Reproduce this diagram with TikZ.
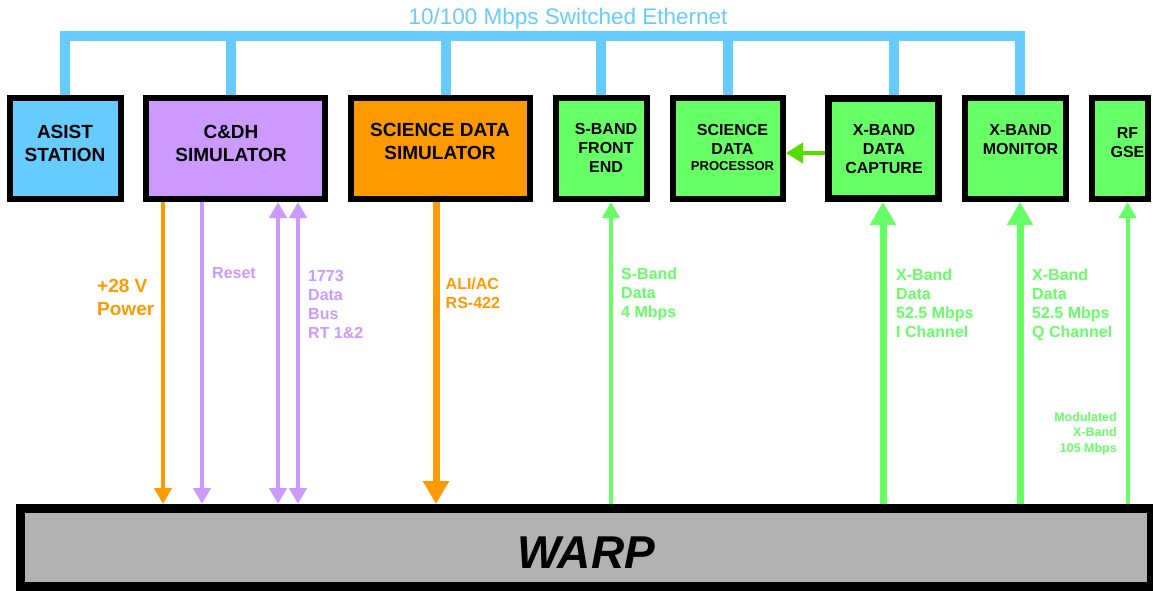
\documentclass[tikz,border=0pt]{standalone}
\usepackage{fontspec}
\setmainfont{Liberation Sans}
\usetikzlibrary{positioning,arrows.meta}
\definecolor{ethblue}{HTML}{66CCFF}
\definecolor{cdhviolet}{HTML}{CC99FF}
\definecolor{sciorange}{HTML}{FF9900}
\definecolor{rfgreen}{HTML}{66FF66}
\definecolor{linkgreen}{HTML}{55DD00}
\definecolor{warpgray}{HTML}{B2B2B2}
\newcommand{\fsz}[2]{\fontsize{#1}{#2}\selectfont}

\begin{document}
\begin{tikzpicture}[x=1pt,y=-1pt,
  smalltip/.tip={Triangle[width=17pt,length=16pt]},
  bigtip/.tip={Triangle[width=25pt,length=23pt]},
  unit/.style={draw,line width=6pt,minimum height=101pt,inner sep=0pt},
  unitname/.style={anchor=north,inner sep=0pt,align=center,font=\bfseries\fsz{16}{19}},
  bigname/.style={unitname,font=\bfseries\fsz{19}{23}},
  bus/.style={ethblue,line width=10pt},
  sig/.style={line width=4pt},
  fat/.style={line width=7pt},
  note/.style={anchor=north west,inner sep=0pt,align=left,font=\bfseries\fsz{16}{19}}]
  \useasboundingbox (0,0) rectangle (1153,590);

  % units on the ethernet
  \node[unit,fill=ethblue,minimum width=111pt] (asist) at (65.5,148.5) {};
  \node[bigname] (asistname) at (65,125) {ASIST\\STATION};
  \node[unit,fill=cdhviolet,minimum width=179pt] (cdh) at (235.5,148.5) {};
  \node[bigname] (cdhname) at (231,125) {C\&DH\\SIMULATOR};
  \node[unit,fill=sciorange,minimum width=179pt] (sds) at (440.5,148.5) {};
  \node[bigname] (sdsname) at (440,123) {SCIENCE DATA\\SIMULATOR};
  \node[unit,fill=rfgreen,minimum width=91pt] (sband) at (601.5,148.5) {};
  \node[unitname] (sbandname) at (606,123.5) {S-BAND\\FRONT\\END};
  \node[unit,fill=rfgreen,minimum width=110pt] (sdp) at (728,148.5) {};
  \node[unitname] (sdpname) at (732.5,124.5) {SCIENCE\\DATA\\[-3pt]{\fsz{13}{15}PROCESSOR}};
  \node[unit,fill=rfgreen,line width=7pt,minimum width=110pt,minimum height=100pt] (xdc) at (883.5,148.5) {};
  \node[unitname] (xdcname) at (884,124.5) {X-BAND\\DATA\\CAPTURE};
  \node[unit,fill=rfgreen,minimum width=101pt] (xmon) at (1015.5,148.5) {};
  \node[unitname] (xmonname) at (1020.5,124.5) {X-BAND\\MONITOR};
  \node[unit,fill=rfgreen,minimum width=56pt] (rfgse) at (1120,148.5) {};
  \node[unitname] (rfname) at (1127.5,127.5) {RF\\GSE};

  \node[draw,line width=9pt,fill=warpgray,minimum width=1131pt,minimum height=78pt,inner sep=0pt,
    text height=42pt,font=\bfseries\itshape\fsz{46}{50}] (warp) at (586,547.5) {WARP};

  % switched ethernet
  \node[anchor=base,inner sep=0pt,text=ethblue,font=\fsz{22.5}{26}] (ethname) at (568,24) {10/100 Mbps Switched Ethernet};
  \coordinate (busline) at (0,36);
  \draw[bus] ([xshift=-0.5pt]asist.north) |- ([xshift=4.5pt]xmon.north |- busline) -- ([xshift=4.5pt]xmon.north);
  \foreach \blk/\dx in {cdh/-4.5,sds/5.5,sband/-0.5,sdp/0,xdc/10.5}
    \draw[bus] ([xshift=\dx pt]\blk.north) -- ([xshift=\dx pt]\blk.north |- busline);

  % signals to and from WARP
  \draw[sig,sciorange,-smalltip] ([xshift=-72.5pt]cdh.south) -- ([xshift=-72.5pt]cdh.south |- warp.north);
  \draw[sig,cdhviolet,-smalltip] ([xshift=-33.5pt]cdh.south) -- ([xshift=-33.5pt]cdh.south |- warp.north);
  \draw[sig,cdhviolet,smalltip-smalltip] ([xshift=42.5pt]cdh.south) -- ([xshift=42.5pt]cdh.south |- warp.north);
  \draw[sig,cdhviolet,smalltip-smalltip] ([xshift=62.5pt]cdh.south) -- ([xshift=62.5pt]cdh.south |- warp.north);
  \draw[fat,sciorange,-bigtip] ([xshift=-4.5pt]sds.south) -- ([xshift=-4.5pt]sds.south |- warp.north);
  \draw[sig,rfgreen,-smalltip] ([xshift=9.5pt]sband.south |- warp.north) -- ([xshift=9.5pt]sband.south);
  \draw[fat,rfgreen,-bigtip] ([xshift=-0.5pt]xdc.south |- warp.north) -- ([xshift=-0.5pt]xdc.south);
  \draw[fat,rfgreen,-bigtip] ([xshift=4.5pt]xmon.south |- warp.north) -- ([xshift=4.5pt]xmon.south);
  \draw[sig,rfgreen,-smalltip] ([xshift=7.5pt]rfgse.south |- warp.north) -- ([xshift=7.5pt]rfgse.south);
  \draw[sig,linkgreen,-{Triangle[width=20pt,length=17pt]}] ([yshift=-4.5pt]xdc.west) -- ([yshift=-4.5pt]xdc.west -| sdp.east);

  % signal names
  \node[note,text=sciorange,font=\bfseries\fsz{19}{23}] (pwrlbl) at (97,279) {+28 V\\Power};
  \node[note,text=cdhviolet] (rstlbl) at (212,267.5) {Reset};
  \node[note,text=cdhviolet] (buslbl) at (308,270.5) {1773\\Data\\Bus\\RT 1\&2};
  \node[note,text=sciorange] (alilbl) at (445.5,277.5) {ALI/AC\\RS-422};
  \node[note,text=rfgreen] (sblbl) at (621,267.5) {S-Band\\Data\\4 Mbps};
  \node[note,text=rfgreen] (xilbl) at (896,268.5) {X-Band\\Data\\52.5 Mbps\\I Channel};
  \node[note,text=rfgreen] (xqlbl) at (1032,268.5) {X-Band\\Data\\52.5 Mbps\\Q Channel};
  \node[note,anchor=north east,align=right,text=rfgreen,font=\bfseries\fsz{12.5}{15.5}] (modlbl) at (1117,412) {Modulated\\X-Band\\105 Mbps};
\end{tikzpicture}
\end{document}
